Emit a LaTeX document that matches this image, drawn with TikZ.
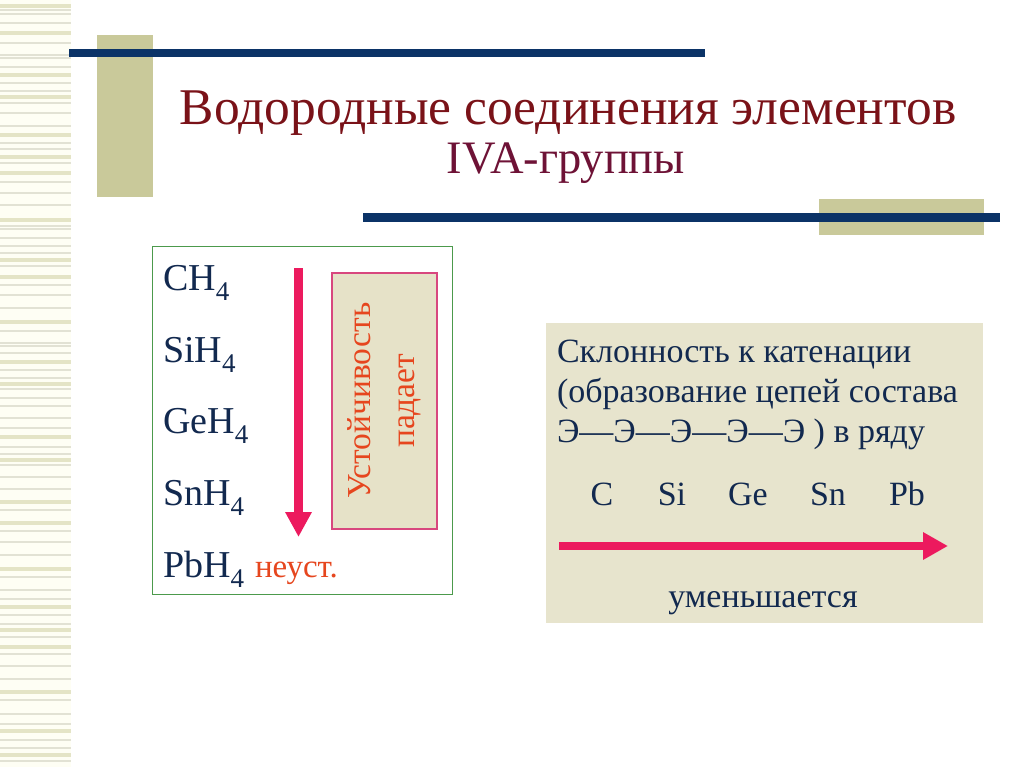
\documentclass[tikz,border=0pt]{standalone}
\usepackage{fontspec}
\setmainfont{Liberation Serif}
\usetikzlibrary{arrows.meta}
\definecolor{navy}{HTML}{0B3367}
\definecolor{khaki}{HTML}{C9C99A}
\definecolor{stripbg}{HTML}{FEFEF4}
\definecolor{stripe}{HTML}{E4E4C6}
\definecolor{stripethin}{HTML}{E2E2D4}
\definecolor{titlered}{HTML}{7A1218}
\definecolor{titlepurple}{HTML}{6E1236}
\definecolor{formula}{HTML}{12294F}
\definecolor{boxgreen}{HTML}{4C9A4C}
\definecolor{arrowpink}{HTML}{EC1A5E}
\definecolor{roseborder}{HTML}{D8477E}
\definecolor{rosefill}{HTML}{E6E2C8}
\definecolor{orangetext}{HTML}{E6461E}
\definecolor{panelfill}{HTML}{E7E4CD}
\newcommand\chemsub[1]{\raisebox{-10pt}{\fontsize{27}{27}\selectfont #1}}
\tikzset{
  txt/.style={inner sep=0pt, outer sep=0pt, anchor=base west},
  formulatxt/.style={txt, text=formula, font=\fontsize{38}{42}\selectfont},
  paneltxt/.style={txt, text=formula, font=\fontsize{34}{38}\selectfont},
  bigarrow/.style={draw=arrowpink, line width=9pt, -{Triangle[width=25pt,length=25pt]}},
}
\begin{document}
\begin{tikzpicture}[x=1pt,y=-1pt]
\useasboundingbox (0,0) rectangle (1024,767);
\fill[white] (0,0) rectangle (1024,767);
% left striped band
\fill[stripbg] (0,0) rectangle (71,767);
\foreach \y in {10,14,23,43,55,58,67,83,91,103,113,126,143,149,163,182,193,205,226,229,238,246,253,266,285,295,308,331,343,346,353,370,378,389,398,406,418,428,447,454,465,477,489,510,531,542,555,577,590,599,615,624,637,654,666,679,700,714,724,740,748,761}
  \fill[stripethin] (0,\y-0.8) rectangle (71,\y+0.8);
\foreach \y in {6,33,75,97,135,157,173,220,260,277,322,362,384,437,460,502,523,569,607,630,647,692,731,755}
  \fill[stripe] (0,\y-2) rectangle (71,\y+2);
% decorative bars
\fill[khaki] (97,35) rectangle (153,197);
\fill[navy] (69,49) rectangle (705,57);
\fill[khaki] (819,199) rectangle (984,235);
\fill[navy] (363,213) rectangle (1000,222);
% title
\node[inner sep=0pt, anchor=base, text=titlered, font=\fontsize{51.5}{56}\selectfont] (title) at (568,125) {Водородные соединения элементов};
\node[inner sep=0pt, anchor=base, text=titlepurple, font=\fontsize{46.5}{50}\selectfont] (subtitle) at (566,174) {IVA-группы};
% left box
\node[draw=boxgreen, line width=1.2pt, minimum width=300pt, minimum height=348pt, inner sep=0pt, anchor=north west] (leftbox) at (152,246) {};
\node[formulatxt] (ch4) at (163,290) {CH\chemsub{4}};
\node[formulatxt] (sih4) at (163,362) {SiH\chemsub{4}};
\node[formulatxt] (geh4) at (163,433) {GeH\chemsub{4}};
\node[formulatxt] (snh4) at (163,505) {SnH\chemsub{4}};
\node[formulatxt] (pbh4) at (163,577) {PbH\chemsub{4}};
\node[txt, text=orangetext, font=\fontsize{33}{36}\selectfont] (neust) at (255,577) {неуст.};
\coordinate (vstart) at (298.5,268);
\coordinate (vend) at (298.5,537);
\draw[bigarrow] (vstart) -- (vend);
\node[draw=roseborder, fill=rosefill, line width=1.5pt, minimum width=105pt, minimum height=256pt, inner sep=0pt, anchor=north west] (stabbox) at (331,272) {};
\node[rotate=90, align=center, text=orangetext, font=\fontsize{33.5}{44}\selectfont, inner sep=0pt] (stabtext) at (stabbox.center) {Устойчивость\\падает};
% right panel
\node[fill=panelfill, minimum width=437pt, minimum height=300pt, inner sep=0pt, anchor=north west] (panel) at (546,323) {};
\node[paneltxt] (l1) at (557,362) {Склонность к катенации};
\node[paneltxt] (l2) at (557,402) {(образование цепей состава};
\node[paneltxt] (l3) at (557,442) {Э—Э—Э—Э—Э ) в ряду};
\node[paneltxt, anchor=base] (elC) at (602,505) {C};
\node[paneltxt, anchor=base] (elSi) at (672,505) {Si};
\node[paneltxt, anchor=base] (elGe) at (748,505) {Ge};
\node[paneltxt, anchor=base] (elSn) at (828,505) {Sn};
\node[paneltxt, anchor=base] (elPb) at (907,505) {Pb};
\coordinate (hstart) at (559,546);
\coordinate (hend) at (948,546);
\draw[bigarrow, line width=8pt, -{Triangle[width=26pt,length=25pt]}] (hstart) -- (hend);
\node[paneltxt, anchor=base] (decr) at (763,607) {уменьшается};
\end{tikzpicture}
\end{document}
